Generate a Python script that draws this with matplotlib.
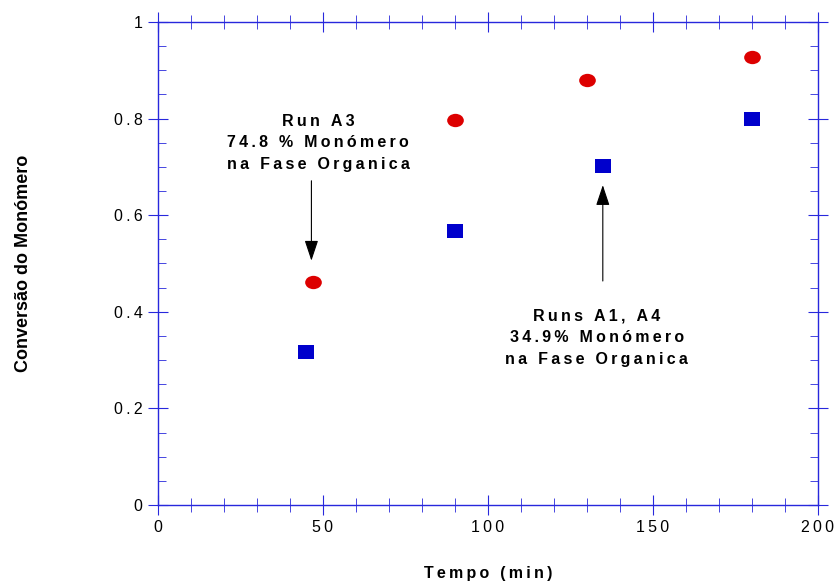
import matplotlib
matplotlib.use("Agg")
import matplotlib.pyplot as plt
from matplotlib.path import Path
from matplotlib.transforms import Affine2D
from matplotlib.ticker import MultipleLocator, FixedLocator, FixedFormatter

plt.rcParams["font.family"] = ["Liberation Sans", "DejaVu Sans"]

# data
tempo_a3 = [47, 90, 130, 180]
conv_a3 = [0.462, 0.797, 0.879, 0.927]
tempo_a1a4 = [45, 90, 135, 180]
conv_a1a4 = [0.316, 0.567, 0.701, 0.799]

x_ticks = [0, 50, 100, 150, 200]
x_labels = ["0", "50", "100", "150", "200"]
y_ticks = [0, 0.2, 0.4, 0.6, 0.8, 1]
y_labels = ["0", "0.2", "0.4", "0.6", "0.8", "1"]

AXIS_BLUE = "#2828dc"


def spaced(s):
    # the original uses wide letter spacing, fake it with thin spaces
    return "\n".join("\u2009".join(line) for line in s.split("\n"))


# markers in the original are a bit flattened
ellipse = Path.unit_circle().transformed(Affine2D().scale(1.0, 0.8))
flat_square = Path([(-1, -0.85), (1, -0.85), (1, 0.85), (-1, 0.85), (-1, -0.85)],
                   closed=True)

fig = plt.figure(figsize=(8.38, 5.88), dpi=100)
ax = fig.add_axes([0.1885, 0.1412, 0.7876, 0.8214])

ax.plot(tempo_a3, conv_a3, linestyle="none", marker=ellipse, color="#dd0000",
        markersize=12, markeredgewidth=0)
ax.plot(tempo_a1a4, conv_a1a4, linestyle="none", marker=flat_square, color="#0000cc",
        markersize=12, markeredgewidth=0)

ax.set_xlim(0, 200)
ax.set_ylim(0, 1)
ax.xaxis.set_major_locator(FixedLocator(x_ticks))
ax.xaxis.set_major_formatter(FixedFormatter([spaced(t) for t in x_labels]))
ax.xaxis.set_minor_locator(MultipleLocator(10))
ax.yaxis.set_major_locator(FixedLocator(y_ticks))
ax.yaxis.set_major_formatter(FixedFormatter([spaced(t) for t in y_labels]))
ax.yaxis.set_minor_locator(MultipleLocator(0.05))

for s in ax.spines.values():
    s.set_color(AXIS_BLUE)
    s.set_linewidth(1.0)

ax.tick_params(axis="x", which="major", direction="inout", length=14, color=AXIS_BLUE,
               top=True, bottom=True, labelsize=11.5, pad=4)
ax.tick_params(axis="x", which="minor", direction="inout", length=10, color=AXIS_BLUE,
               top=True, bottom=True)
ax.tick_params(axis="y", which="major", direction="inout", length=14, color=AXIS_BLUE,
               left=True, right=True, labelsize=11.5, pad=4)
ax.tick_params(axis="y", which="minor", direction="in", length=6, color=AXIS_BLUE,
               left=True, right=True)

ax.set_xlabel(spaced("Tempo (min)"), fontsize=11.5, fontweight="bold", labelpad=22)
ax.set_ylabel("Conversão do Monómero", fontsize=13, fontweight="bold", labelpad=59)

txt = dict(fontsize=11.5, fontweight="bold", ha="center", va="center", linespacing=1.55)
ax.text(48.5, 0.75, spaced("Run A3\n74.8 % Monómero\nna Fase Organica"), **txt)
ax.text(133, 0.346, spaced("Runs A1, A4\n34.9% Monómero\nna Fase Organica"), **txt)

arrow = dict(arrowstyle="-|>,head_length=0.9,head_width=0.3", color="black", lw=0.8,
             mutation_scale=14)
ax.annotate("", xy=(46.5, 0.50), xytext=(46.5, 0.677), arrowprops=arrow)
ax.annotate("", xy=(134.8, 0.668), xytext=(134.8, 0.458), arrowprops=arrow)

fig.savefig("out.png", dpi=100)
